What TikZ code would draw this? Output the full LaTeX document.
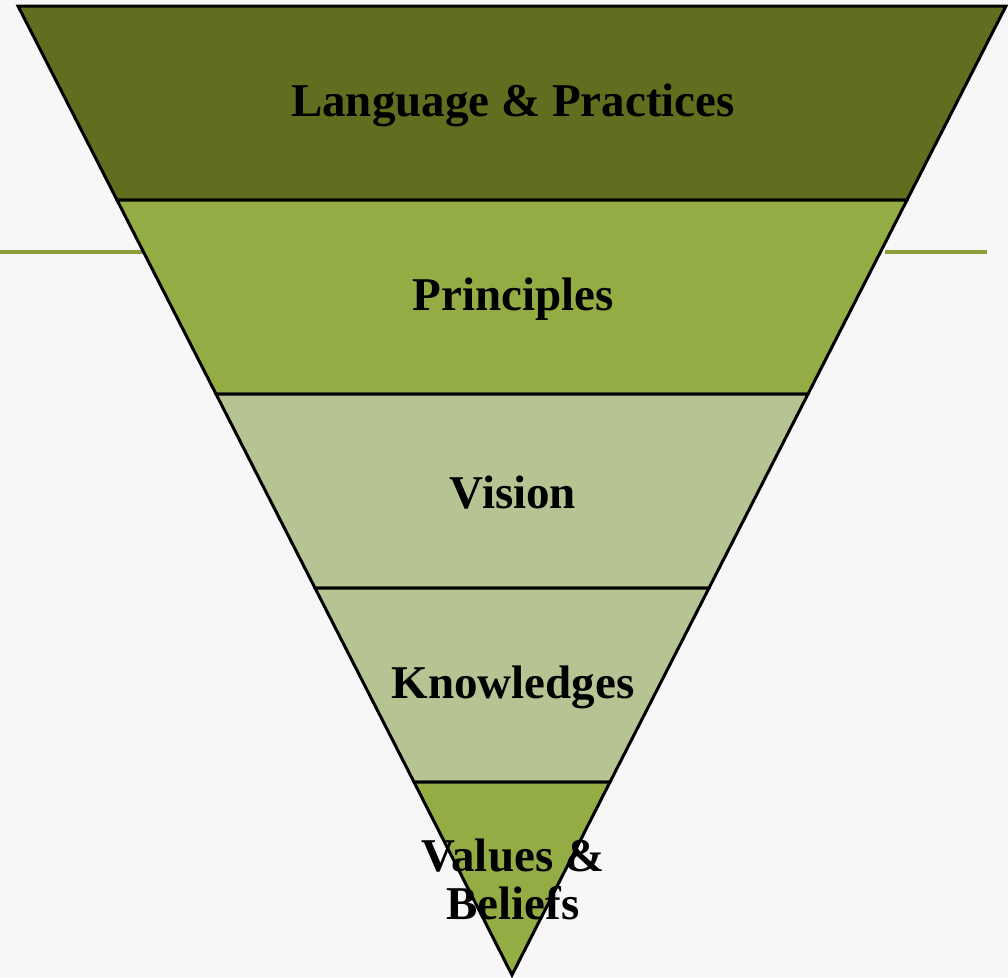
\documentclass[tikz,border=0pt]{standalone}
\usepackage{fontspec}
\setmainfont{Liberation Serif}
\definecolor{bgc}{HTML}{F7F7F7}
\definecolor{darkol}{HTML}{616E1F}
\definecolor{midgr}{HTML}{93AC43}
\definecolor{palegr}{HTML}{B6C494}
\definecolor{rulegr}{HTML}{8A9E3A}
\begin{document}
\begin{tikzpicture}[x=1pt,y=-1pt,
  band/.style={draw=black,line width=3pt,line join=miter},
  lbl/.style={font=\bfseries\fontsize{47}{48}\selectfont,text=black,align=center,inner sep=0pt}]
\fill[bgc] (0,0) rectangle (1008,977);
\useasboundingbox (0,0) rectangle (1008,977);
% decorative rule
\draw[rulegr,line width=3.5pt] (0,252) -- (143,252);
\draw[rulegr,line width=3.5pt] (885,252) -- (987,252);
% triangle geometry
\coordinate (A1) at (18,6);      \coordinate (B1) at (1006,6);
\coordinate (A2) at (117,200);   \coordinate (B2) at (907,200);
\coordinate (A3) at (216,394);   \coordinate (B3) at (808,394);
\coordinate (A4) at (315,588);   \coordinate (B4) at (709,588);
\coordinate (A5) at (414,782);   \coordinate (B5) at (610,782);
\coordinate (T) at (512,975);
\draw[band,fill=darkol] (A1) -- (B1) -- (B2) -- (A2) -- cycle;
\draw[band,fill=midgr] (A2) -- (B2) -- (B3) -- (A3) -- cycle;
\draw[band,fill=palegr] (A3) -- (B3) -- (B4) -- (A4) -- cycle;
\draw[band,fill=palegr] (A4) -- (B4) -- (B5) -- (A5) -- cycle;
\draw[band,fill=midgr] (A5) -- (B5) -- (T) -- cycle;
\node[lbl] (l1) at (513,105) {Language \& Practices};
\node[lbl] (l2) at (513,299) {Principles};
\node[lbl] (l3) at (513,493) {Vision};
\node[lbl] (l4) at (513,687) {Knowledges};
\node[lbl] (l5) at (513,879) {Values \&\\Beliefs};
\end{tikzpicture}
\end{document}
